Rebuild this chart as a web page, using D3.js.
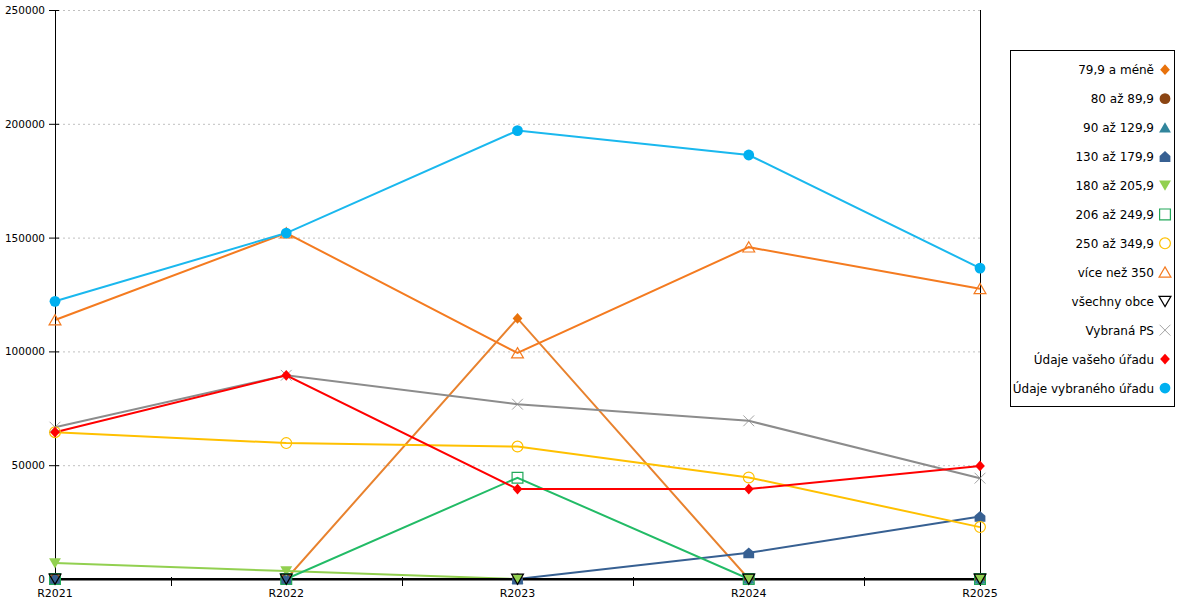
<!DOCTYPE html>
<html>
<head>
<meta charset="utf-8">
<script src="https://cdn.jsdelivr.net/npm/d3@7"></script>
<style>
  body { margin: 0; background: #fff; }
  svg { font-family: "DejaVu Sans", sans-serif; }
</style>
</head>
<body>
<div id="chart"></div>
<script>
// data
const categories = ["R2021", "R2022", "R2023", "R2024", "R2025"];
const seriesNames = ["79,9 a méně", "80 až 89,9", "90 až 129,9", "130 až 179,9", "180 až 205,9",
    "206 až 249,9", "250 až 349,9", "více než 350", "všechny obce", "Vybraná PS",
    "Údaje vašeho úřadu", "Údaje vybraného úřadu"];
const val79 = [0, 0, 114500, 0, 0];
const val80 = [0, 0, 0, 0, 0];
const val90 = [0, 0, 0, 0, 0];
const val130 = [0, 0, 0, 11500, 27500];
const val180 = [7000, 3500, 0, 0, 0];
const val206 = [0, 0, 44500, 0, 0];
const val250 = [64500, 59700, 58200, 44600, 22800];
const val350 = [113800, 152000, 99300, 145800, 127500];
const valAll = [0, 0, 0, 0, 0];
const valPS = [66700, 89500, 76800, 69500, 44300];
const valOwn = [64500, 89500, 39500, 39500, 49700];
const valSel = [122000, 152000, 197000, 186300, 136600];
const yTicks = [0, 50000, 100000, 150000, 200000, 250000];

const seriesValues = [val79, val80, val90, val130, val180, val206, val250, val350, valAll, valPS, valOwn, valSel];

// look of each series: line colour, marker shape, marker filled or open
const styles = [
    {color: "#E8720C", line: "#E8822E", shape: "diamond", fill: true},
    {color: "#8B4513", line: "#8B4513", shape: "circle", fill: true},
    {color: "#31859C", line: "#31859C", shape: "triangle", fill: true},
    {color: "#376092", line: "#376092", shape: "house", fill: true},
    {color: "#92D050", line: "#92D050", shape: "down", fill: true},
    {color: "#22A85A", line: "#22BB66", shape: "square", fill: false},
    {color: "#FFC000", line: "#FFC000", shape: "circle", fill: false},
    {color: "#F47B20", line: "#F47B20", shape: "triangle", fill: false},
    {color: "#000000", line: "#000000", shape: "down", fill: false},
    {color: "#8C8C8C", line: "#8C8C8C", shape: "x", fill: false},
    {color: "#FF0000", line: "#FF0000", shape: "diamond", fill: true},
    {color: "#00B0F0", line: "#1AB8EE", shape: "circle", fill: true}
];

function markerPath(shape, s) {
    switch (shape) {
        case "diamond": return `M0,${-s}L${s * 0.9},0L0,${s}L${-s * 0.9},0Z`;
        case "circle": return `M${s},0A${s},${s} 0 1,1 ${-s},0A${s},${s} 0 1,1 ${s},0Z`;
        case "triangle": return `M0,${-s}L${s * 1.1},${s * 0.9}L${-s * 1.1},${s * 0.9}Z`;
        case "down": return `M0,${s}L${s * 1.1},${-s * 0.9}L${-s * 1.1},${-s * 0.9}Z`;
        case "square": return `M${-s},${-s}H${s}V${s}H${-s}Z`;
        case "house": return `M0,${-s}L${s},${-s * 0.1}L${s},${s}L${-s},${s}L${-s},${-s * 0.1}Z`;
        case "x": return `M${-s},${-s}L${s},${s}M${s},${-s}L${-s},${s}`;
    }
}

function drawMarker(sel, st) {
    const s = st.shape === "circle" ? 5.4 : 5.4;
    sel.attr("d", markerPath(st.shape, s))
        .attr("fill", st.fill ? st.color : "none")
        .attr("stroke", st.fill ? "none" : st.color)
        .attr("stroke-width", st.shape === "x" ? 0.8 : 1.2);
}

const width = 1200, height = 600;
const svg = d3.select("#chart").append("svg")
    .attr("width", width)
    .attr("height", height);

const x = d3.scalePoint().domain(categories).range([55, 980]);
const y = d3.scaleLinear().domain([0, 250000]).range([579, 10]);

// grid
svg.append("g").selectAll("line")
    .data(yTicks.filter(d => d > 0))
    .enter().append("line")
    .attr("x1", 58).attr("x2", 980)
    .attr("y1", d => y(d) + 0.5).attr("y2", d => y(d) + 0.5)
    .attr("stroke", "#c0c0c0")
    .attr("stroke-dasharray", "2,3");

// lines
const line = d3.line()
    .x((d, i) => x(categories[i]))
    .y(d => y(d));

svg.append("g").selectAll("path")
    .data(seriesValues)
    .enter().append("path")
    .attr("d", d => line(d))
    .attr("fill", "none")
    .attr("stroke", (d, i) => styles[i].line)
    .attr("stroke-width", 2);

// axes
const yAxis = svg.append("g");
yAxis.append("line")
    .attr("x1", 55.5).attr("x2", 55.5)
    .attr("y1", 10).attr("y2", 580)
    .attr("stroke", "#000");
yAxis.selectAll(".tick")
    .data(yTicks)
    .enter().append("line")
    .attr("x1", 49).attr("x2", 59)
    .attr("y1", d => y(d) + 0.5).attr("y2", d => y(d) + 0.5)
    .attr("stroke", "#000");
yAxis.selectAll("text")
    .data(yTicks)
    .enter().append("text")
    .attr("x", 45)
    .attr("y", d => y(d) + 4)
    .attr("text-anchor", "end")
    .style("font-size", "10.5px")
    .attr("fill", "#000")
    .text(d => d);

svg.append("line")
    .attr("x1", 980.5).attr("x2", 980.5)
    .attr("y1", 10).attr("y2", 586)
    .attr("stroke", "#000");

const xAxis = svg.append("g");
xAxis.append("line")
    .attr("x1", 55).attr("x2", 981)
    .attr("y1", 579.5).attr("y2", 579.5)
    .attr("stroke", "#000")
    .attr("stroke-width", 2.2);
const mids = categories.slice(1).map((c, i) => (x(c) + x(categories[i])) / 2);
xAxis.selectAll(".minor")
    .data(mids)
    .enter().append("line")
    .attr("x1", d => Math.round(d) + 0.5).attr("x2", d => Math.round(d) + 0.5)
    .attr("y1", 577).attr("y2", 586)
    .attr("stroke", "#000");
xAxis.selectAll("text")
    .data(categories)
    .enter().append("text")
    .attr("x", d => x(d))
    .attr("y", 597)
    .attr("text-anchor", "middle")
    .style("font-size", "11px")
    .attr("fill", "#000")
    .text(d => d);

// markers
seriesValues.forEach((vals, si) => {
    svg.append("g").selectAll("path")
        .data(vals)
        .enter().append("path")
        .attr("transform", (d, i) => `translate(${x(categories[i])},${y(d)})`)
        .call(drawMarker, styles[si]);
});

// legend
const legend = svg.append("g");
legend.append("rect")
    .attr("x", 1010.5).attr("y", 50.5)
    .attr("width", 164).attr("height", 356)
    .attr("fill", "#fff")
    .attr("stroke", "#000");
const item = legend.selectAll(".item")
    .data(seriesNames)
    .enter().append("g")
    .attr("transform", (d, i) => `translate(0,${69.7 + i * 28.94})`);
item.append("text")
    .attr("x", 1154)
    .attr("y", 4.5)
    .attr("text-anchor", "end")
    .style("font-size", "12px")
    .attr("fill", "#000")
    .text(d => d);
item.append("path")
    .attr("transform", "translate(1165,0)")
    .each(function (d, i) { d3.select(this).call(drawMarker, styles[i]); });
</script>
</body>
</html>
